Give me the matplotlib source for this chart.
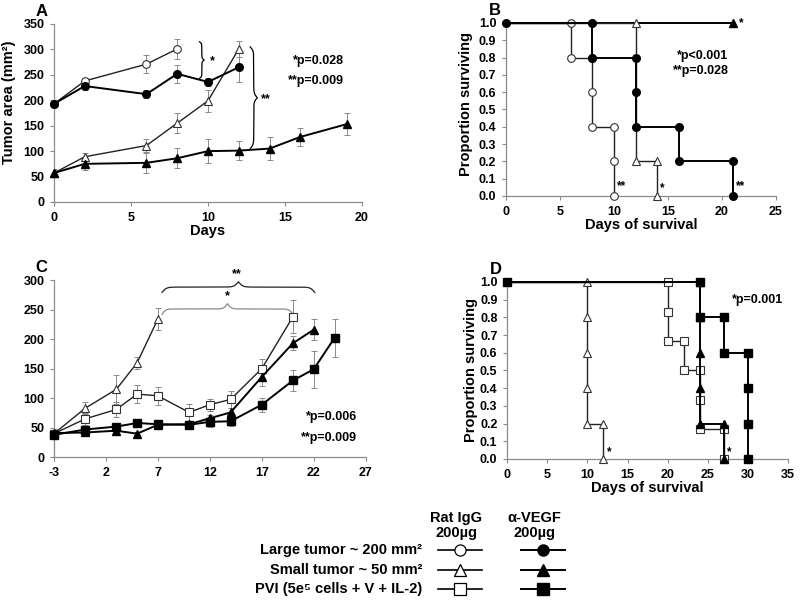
import matplotlib

matplotlib.use("Agg")
import matplotlib.pyplot as plt
import numpy as np

plt.rcParams["font.family"] = ["Liberation Sans", "DejaVu Sans"]
plt.rcParams["font.weight"] = "bold"
plt.rcParams["axes.unicode_minus"] = False

# ---- panel A: tumor growth (large / small tumors) ----
a_lg_igg_x = [0, 2, 6, 8]
a_lg_igg_y = [193, 238, 271, 301]
a_lg_igg_e = [5, 5, 18, 20]
a_lg_vegf_x = [0, 2, 6, 8, 10, 12]
a_lg_vegf_y = [193, 228, 212, 252, 236, 265]
a_lg_vegf_e = [5, 8, 8, 18, 8, 30]
a_sm_igg_x = [0, 2, 6, 8, 10, 12]
a_sm_igg_y = [57, 89, 111, 155, 199, 301]
a_sm_igg_e = [6, 8, 12, 20, 22, 15]
a_sm_vegf_x = [0, 2, 6, 8, 10, 12, 14, 16, 19]
a_sm_vegf_y = [57, 75, 77, 86, 100, 101, 105, 128, 153]
a_sm_vegf_e = [8, 12, 20, 20, 23, 18, 22, 18, 22]

# ---- panel B: survival (large / small tumors) ----
b_lg_igg_t = [0, 6, 6, 8, 8, 8, 10, 10, 10]
b_lg_igg_s = [1.0, 1.0, 0.8, 0.8, 0.6, 0.4, 0.4, 0.2, 0.0]
b_lg_vegf_t = [0, 8, 8, 12, 12, 12, 16, 16, 21, 21]
b_lg_vegf_s = [1.0, 1.0, 0.8, 0.8, 0.6, 0.4, 0.4, 0.2, 0.2, 0.0]
b_sm_igg_t = [0, 12, 12, 14, 14]
b_sm_igg_s = [1.0, 1.0, 0.2, 0.2, 0.0]
b_sm_vegf_t = [0, 21]
b_sm_vegf_s = [1.0, 1.0]

# ---- panel C: tumor growth (small tumor / PVI) ----
c_days = [-3, 0, 3, 5, 7, 10, 12, 14, 17, 20, 22, 24]
c_sm_igg_y = [40, 83, 115, 160, 234]
c_sm_igg_e = [8, 10, 25, 10, 18]
c_pvi_igg_y = [40, 65, 81, 107, 104, 76, 89, 98, 150, 238]
c_pvi_igg_e = [8, 10, 12, 15, 15, 15, 10, 15, 17, 28]
c_sm_vegf_y = [41, 42, 45, 40, 55, 56, 66, 76, 136, 193, 216]
c_sm_vegf_e = [5, 5, 5, 3, 5, 5, 5, 8, 15, 12, 18]
c_pvi_vegf_y = [38, 47, 52, 58, 56, 55, 60, 61, 89, 130, 149, 202]
c_pvi_vegf_e = [5, 5, 5, 5, 5, 5, 8, 8, 12, 17, 31, 32]

# ---- panel D: survival (small tumor / PVI) ----
d_sm_igg_t = [0, 10, 10, 10, 10, 10, 12, 12]
d_sm_igg_s = [1.0, 1.0, 0.8, 0.6, 0.4, 0.2, 0.2, 0.0]
d_pvi_igg_t = [0, 20, 20, 20, 22, 22, 24, 24, 24, 27, 27]
d_pvi_igg_s = [1.0, 1.0, 0.833, 0.667, 0.667, 0.5, 0.5, 0.333, 0.167, 0.167, 0.0]
d_sm_vegf_t = [0, 24, 24, 24, 24, 24, 27, 27]
d_sm_vegf_s = [1.0, 1.0, 0.8, 0.6, 0.4, 0.2, 0.2, 0.0]
d_pvi_vegf_t = [0, 24, 24, 27, 27, 30, 30, 30, 30]
d_pvi_vegf_s = [1.0, 1.0, 0.8, 0.8, 0.6, 0.6, 0.4, 0.2, 0.0]

legend_rows = ["Large tumor ~ 200 mm\u00b2", "Small tumor ~ 50 mm\u00b2",
               "PVI (5e\u2075 cells + V + IL-2)"]
legend_markers = ["o", "^", "s"]

GRAY = "#8a8a8a"
TICK_FS = 9
OPEN = dict(color="#222222", lw=1.0, mfc="white", mec="#333333", ms=5.5, mew=0.8)
FILL = dict(color="black", lw=1.4, mfc="black", mec="black", ms=5.5)


def style_axes(ax):
    for side in ("top", "right"):
        ax.spines[side].set_visible(False)
    for side in ("left", "bottom"):
        ax.spines[side].set_color(GRAY)
        ax.spines[side].set_linewidth(0.9)
    ax.tick_params(colors=GRAY, labelcolor="black", labelsize=TICK_FS,
                   length=3, width=0.8, pad=4)
    for lab in ax.get_xticklabels() + ax.get_yticklabels():
        lab.set_fontweight("bold")


def growth(ax, x, y, e, marker, kw):
    ax.errorbar(x, y, yerr=e, fmt="none", ecolor=GRAY, elinewidth=0.7,
                capsize=2, capthick=0.7, zorder=2)
    ax.plot(x, y, marker=marker, zorder=3, clip_on=False, **kw)


def km(ax, t, s, marker, kw, first=False):
    every = slice(0, None) if first else slice(1, None)
    ax.plot(t, s, marker=marker, markevery=every, zorder=3, clip_on=False, **kw)


def hbrace(ax, x0, x1, y, h, color, beta=60):
    n = 301
    t = np.linspace(0, 1, n)
    half = t[: n // 2 + 1]
    yh = 1 / (1 + np.exp(-beta * (half - half[0]))) + 1 / (1 + np.exp(-beta * (half - half[-1])))
    yy = np.concatenate([yh, yh[-2::-1]])
    ax.plot(x0 + (x1 - x0) * t, y + (yy - 1) * 2 * h, color=color, lw=0.9, clip_on=False)


def vbrace(ax, y0, y1, x, h, color, beta=40):
    n = 301
    t = np.linspace(0, 1, n)
    half = t[: n // 2 + 1]
    xh = 1 / (1 + np.exp(-beta * (half - half[0]))) + 1 / (1 + np.exp(-beta * (half - half[-1])))
    xx = np.concatenate([xh, xh[-2::-1]])
    ax.plot(x + (xx - 1) * 2 * h, y0 + (y1 - y0) * t, color=color, lw=0.9, clip_on=False)


fig = plt.figure(figsize=(8, 6.01), dpi=100, facecolor="white")

# ---------------- A ----------------
axA = fig.add_axes([0.0675, 0.6639, 0.385, 0.2962])
growth(axA, a_lg_igg_x, a_lg_igg_y, a_lg_igg_e, "o", OPEN)
growth(axA, a_sm_igg_x, a_sm_igg_y, a_sm_igg_e, "^", OPEN)
growth(axA, a_lg_vegf_x, a_lg_vegf_y, a_lg_vegf_e, "o", FILL)
growth(axA, a_sm_vegf_x, a_sm_vegf_y, a_sm_vegf_e, "^", FILL)
axA.set_xlim(0, 20)
axA.set_ylim(0, 350)
axA.set_xticks(range(0, 21, 5))
axA.set_yticks(range(0, 351, 50))
axA.set_xlabel("Days", fontsize=10.5, fontweight="bold", labelpad=0)
axA.set_ylabel("Tumor area (mm\u00b2)", fontsize=10.5, fontweight="bold")
axA.yaxis.set_label_coords(-0.122, 0.56)
vbrace(axA, 243, 315, 9.6, 0.15, "black")
vbrace(axA, 105, 305, 12.97, 0.23, "black", beta=50)
axA.text(10.1, 277, "*", fontsize=9, fontweight="bold", va="center")
axA.text(13.45, 202, "**", fontsize=9, fontweight="bold", va="center")
axA.text(18.8, 277, "*p=0.028", fontsize=9, fontweight="bold", ha="right", va="center")
axA.text(18.8, 238, "**p=0.009", fontsize=9, fontweight="bold", ha="right", va="center")
axA.text(-0.04, 1.07, "A", transform=axA.transAxes, fontsize=12, fontweight="bold",
         ha="center", va="center")
style_axes(axA)

# ---------------- B ----------------
axB = fig.add_axes([0.6325, 0.6739, 0.3375, 0.2879])
km(axB, b_sm_vegf_t, b_sm_vegf_s, "^", FILL)
km(axB, b_lg_igg_t, b_lg_igg_s, "o", OPEN)
km(axB, b_sm_igg_t, b_sm_igg_s, "^", OPEN)
km(axB, b_lg_vegf_t, b_lg_vegf_s, "o", FILL, first=True)
axB.set_xlim(0, 25)
axB.set_ylim(0, 1.0)
axB.set_xticks(range(0, 26, 5))
axB.set_yticks(np.round(np.arange(0, 1.01, 0.1), 1))
axB.set_yticklabels(["%.1f" % v for v in np.arange(0, 1.01, 0.1)])
axB.set_xlabel("Days of survival", fontsize=10.5, fontweight="bold", labelpad=0)
axB.set_ylabel("Proportion surviving", fontsize=10.5, fontweight="bold")
axB.yaxis.set_label_coords(-0.122, 0.53)
axB.text(10.25, 0.04, "**", fontsize=8.5, fontweight="bold")
axB.text(14.3, 0.03, "*", fontsize=8.5, fontweight="bold")
axB.text(21.25, 0.04, "**", fontsize=8.5, fontweight="bold")
axB.text(21.6, 1.0, "*", fontsize=8.5, fontweight="bold", va="center")
axB.text(20.6, 0.81, "*p<0.001", fontsize=9, fontweight="bold", ha="right", va="center")
axB.text(20.6, 0.72, "**p=0.028", fontsize=9, fontweight="bold", ha="right", va="center")
axB.text(-0.04, 1.07, "B", transform=axB.transAxes, fontsize=12, fontweight="bold",
         ha="center", va="center")
style_axes(axB)

# ---------------- C ----------------
axC = fig.add_axes([0.0675, 0.2391, 0.3896, 0.295])
growth(axC, c_days[:len(c_sm_igg_y)], c_sm_igg_y, c_sm_igg_e, "^", OPEN)
growth(axC, c_days[:len(c_pvi_igg_y)], c_pvi_igg_y, c_pvi_igg_e, "s", OPEN)
growth(axC, c_days[:len(c_sm_vegf_y)], c_sm_vegf_y, c_sm_vegf_e, "^", FILL)
growth(axC, c_days[:len(c_pvi_vegf_y)], c_pvi_vegf_y, c_pvi_vegf_e, "s", FILL)
axC.set_xlim(-3, 27)
axC.set_ylim(0, 300)
axC.set_xticks(range(-3, 28, 5))
axC.set_yticks(range(0, 301, 50))
hbrace(axC, 7.4, 22.1, 288, 9, "#222222", beta=70)
hbrace(axC, 7.4, 20.0, 251, 9, GRAY, beta=70)
axC.text(14.6, 299, "**", fontsize=9, fontweight="bold", ha="center", va="bottom")
axC.text(13.7, 262, "*", fontsize=9, fontweight="bold", ha="center", va="bottom")
axC.text(26.2, 68, "*p=0.006", fontsize=9, fontweight="bold", ha="right", va="center")
axC.text(26.2, 33, "**p=0.009", fontsize=9, fontweight="bold", ha="right", va="center")
axC.text(-0.04, 1.07, "C", transform=axC.transAxes, fontsize=12, fontweight="bold",
         ha="center", va="center")
style_axes(axC)

# ---------------- D ----------------
axD = fig.add_axes([0.634, 0.2363, 0.351, 0.2945])
km(axD, d_sm_igg_t, d_sm_igg_s, "^", OPEN)
km(axD, d_pvi_igg_t, d_pvi_igg_s, "s", OPEN)
km(axD, d_sm_vegf_t, d_sm_vegf_s, "^", FILL)
km(axD, d_pvi_vegf_t, d_pvi_vegf_s, "s", FILL, first=True)
axD.set_xlim(0, 35)
axD.set_ylim(0, 1.0)
axD.set_xticks(range(0, 36, 5))
axD.set_yticks(np.round(np.arange(0, 1.01, 0.1), 1))
axD.set_yticklabels(["%.1f" % v for v in np.arange(0, 1.01, 0.1)])
axD.set_xlabel("Days of survival", fontsize=10.5, fontweight="bold", labelpad=0)
axD.set_ylabel("Proportion surviving", fontsize=10.5, fontweight="bold")
axD.yaxis.set_label_coords(-0.103, 0.5)
axD.text(12.4, 0.02, "*", fontsize=8.5, fontweight="bold")
axD.text(27.4, 0.02, "*", fontsize=8.5, fontweight="bold")
axD.text(34.4, 0.9, "*p=0.001", fontsize=9, fontweight="bold", ha="right", va="center")
axD.text(-0.04, 1.07, "D", transform=axD.transAxes, fontsize=12, fontweight="bold",
         ha="center", va="center")
style_axes(axD)

# ---------------- legend (pixel overlay) ----------------
axL = fig.add_axes([0, 0, 1, 1], facecolor="none")
axL.set_xlim(0, 800)
axL.set_ylim(601, 0)
axL.axis("off")
axL.text(456, 518, "Rat IgG", fontsize=10.5, fontweight="bold", ha="center", va="center")
axL.text(456, 533, "200\u00b5g", fontsize=10.5, fontweight="bold", ha="center", va="center")
axL.text(534, 518, "\u03b1-VEGF", fontsize=10.5, fontweight="bold", ha="center", va="center")
axL.text(535, 533, "200\u00b5g", fontsize=10.5, fontweight="bold", ha="center", va="center")
for i, (lab, mk) in enumerate(zip(legend_rows, legend_markers)):
    yy = 550 + i * 19.5
    axL.text(422, yy, lab, fontsize=10.5, fontweight="bold", ha="right", va="center")
    axL.plot([438, 482], [yy, yy], color="black", lw=1.2)
    axL.plot([460], [yy], marker=mk, ms=8, mfc="white", mec="black", mew=0.9)
    axL.plot([521, 565], [yy, yy], color="black", lw=1.4)
    axL.plot([543], [yy], marker=mk, ms=8, mfc="black", mec="black")

fig.savefig("out.png", dpi=100, facecolor="white")
